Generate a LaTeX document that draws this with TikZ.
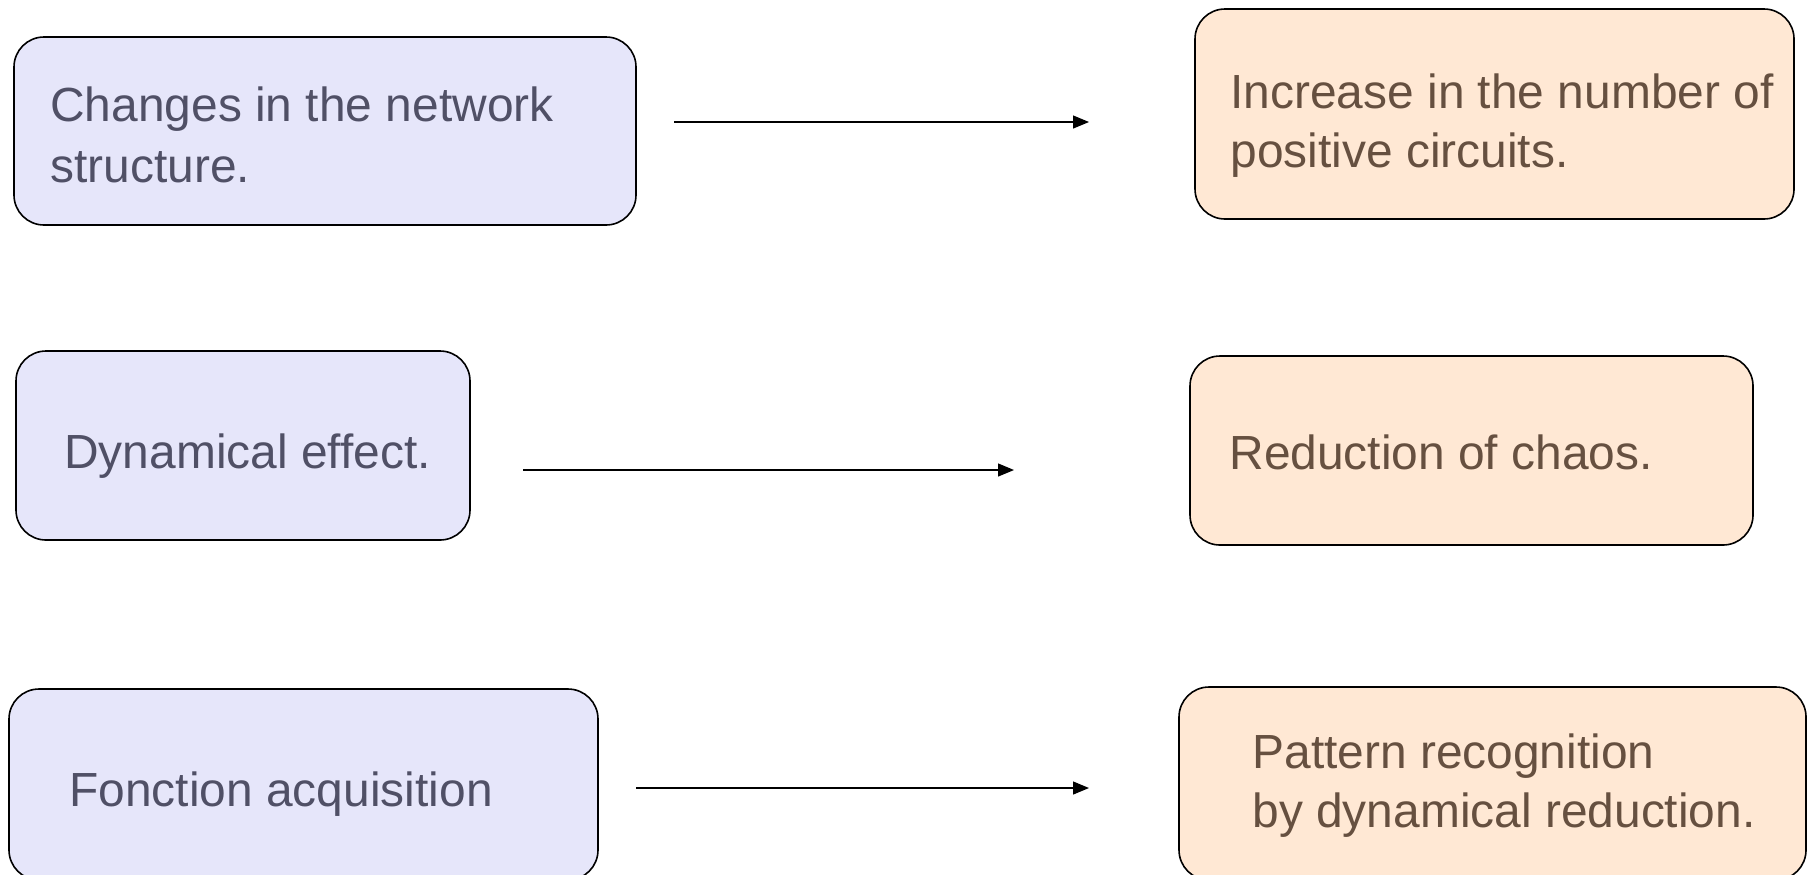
\documentclass[tikz,border=0pt]{standalone}
\usepackage{fontspec}
\setmainfont{Liberation Sans}
\usetikzlibrary{arrows.meta}
\definecolor{leftfill}{HTML}{E6E6FA}
\definecolor{rightfill}{HTML}{FFE8D4}
\definecolor{lefttext}{HTML}{505066}
\definecolor{righttext}{HTML}{665040}
\tikzset{
  boxshape/.style={draw=black, line width=0.8pt, rounded corners=15pt, inner sep=0pt},
  leftbox/.style={boxshape, fill=leftfill},
  rightbox/.style={boxshape, fill=rightfill},
  lbl/.style={anchor=base west, inner sep=0pt, font=\fontsize{23.95pt}{30pt}\selectfont},
  ltxt/.style={lbl, text=lefttext},
  rtxt/.style={lbl, text=righttext},
  conn/.style={draw=black, line width=0.6pt, -{Triangle[length=8pt,width=6.5pt]}}
}
\begin{document}
\begin{tikzpicture}[x=0.5pt,y=-0.5pt]
\useasboundingbox (0,0) rectangle (1807,874);
% boxes
\node[leftbox, minimum width=311pt, minimum height=94pt] (b1) at (325,131) {};
\node[rightbox, minimum width=299.5pt, minimum height=105pt] (b2) at (1494.5,114) {};
\node[leftbox, minimum width=227pt, minimum height=94.5pt] (b3) at (243,445.5) {};
\node[rightbox, minimum width=281.5pt, minimum height=94.5pt] (b4) at (1471.5,450.5) {};
\node[leftbox, minimum width=294.5pt, minimum height=95.5pt] (b5) at (303.5,784.5) {};
\node[rightbox, minimum width=313.5pt, minimum height=96.5pt] (b6) at (1492.5,783.5) {};
% texts
\node[ltxt] (t1a) at (50,121.5) {Changes in the network};
\node[ltxt] (t1b) at (50,182.5) {structure.};
\node[rtxt] (t2a) at (1230,108) {Increase in the number of};
\node[rtxt] (t2b) at (1230,167) {positive circuits.};
\node[ltxt] (t3) at (64,468) {Dynamical effect.};
\node[rtxt] (t4) at (1229,469) {Reduction of chaos.};
\node[ltxt] (t5) at (69,806.5) {Fonction acquisition};
\node[rtxt] (t6a) at (1252,768) {Pattern recognition};
\node[rtxt] (t6b) at (1252,827.5) {by dynamical reduction.};
% connectors
\coordinate (a1s) at (674,122);
\coordinate (a1e) at (1089,122);
\coordinate (a2s) at (523,470);
\coordinate (a2e) at (1014,470);
\coordinate (a3s) at (636,788);
\coordinate (a3e) at (1089,788);
\draw[conn] (a1s) -- (a1e);
\draw[conn] (a2s) -- (a2e);
\draw[conn] (a3s) -- (a3e);
\end{tikzpicture}
\end{document}
